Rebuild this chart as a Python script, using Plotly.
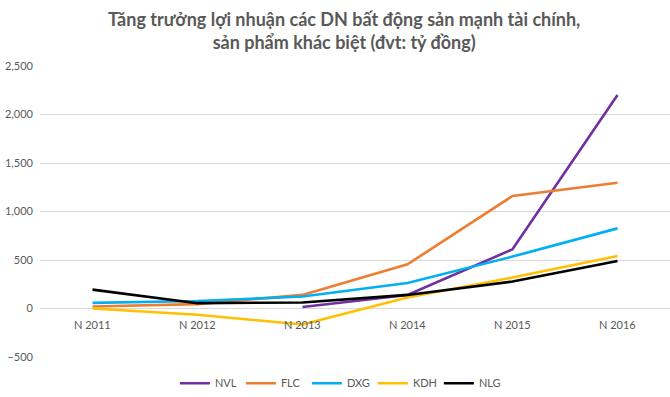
import plotly.graph_objects as go

years = ["N 2011", "N 2012", "N 2013", "N 2014", "N 2015", "N 2016"]
nvl = [None, None, 15, 140, 610, 2200]
flc = [20, 45, 140, 455, 1160, 1297]
dxg = [58, 78, 123, 263, 535, 826]
kdh = [0, -65, -165, 113, 319, 541]
nlg = [195, 55, 62, 140, 278, 490]

names = ["NVL", "FLC", "DXG", "KDH", "NLG"]
colors = ["#7030A0", "#ED7D31", "#00B0F0", "#FFC000", "#000000"]
series = [nvl, flc, dxg, kdh, nlg]

FONT = "Lato"
GREY = "#595959"

fig = go.Figure()
for n, c, s in zip(names, colors, series):
    fig.add_trace(go.Scatter(x=years, y=s, name=n, mode="lines",
                             line=dict(color=c, width=2.6)))

for yr in years:
    fig.add_annotation(x=yr, y=0, yshift=-16, text=yr, showarrow=False,
                       font=dict(family=FONT, size=11, color=GREY))

fig.add_annotation(text="Tăng trưởng lợi nhuận các DN bất động sản mạnh tài chính,<br>sản phẩm khác biệt (đvt: tỷ đồng)",
                   xref="paper", yref="paper", x=0.482, y=1.0, yshift=36,
                   xanchor="center", yanchor="middle", showarrow=False,
                   font=dict(family=FONT, size=18, color=GREY, weight="bold"))

fig.update_layout(
    width=670, height=397,
    margin=dict(l=40, r=0, t=66, b=40, autoexpand=False),
    paper_bgcolor="white", plot_bgcolor="white",
    legend=dict(orientation="h", x=0.476, xanchor="center", y=-0.09, yanchor="middle",
                font=dict(family=FONT, size=11, color=GREY),
                itemwidth=30, tracegroupgap=0,
                entrywidth=21, entrywidthmode="pixels"),
    showlegend=True,
)
fig.update_xaxes(type="category", range=[-0.5, 5.5], showticklabels=False,
                 showgrid=False, zeroline=False, showline=False, ticks="")
fig.update_yaxes(range=[-500, 2500], dtick=500, tickformat=",",
                 gridcolor="#D9D9D9", gridwidth=1, zeroline=False,
                 showline=False, ticklabelstandoff=6,
                 tickfont=dict(family=FONT, size=11, color=GREY))

fig.write_html("out.html", config={"displayModeBar": False},
               post_script="document.body.style.margin='0';document.body.style.overflow='hidden';")
